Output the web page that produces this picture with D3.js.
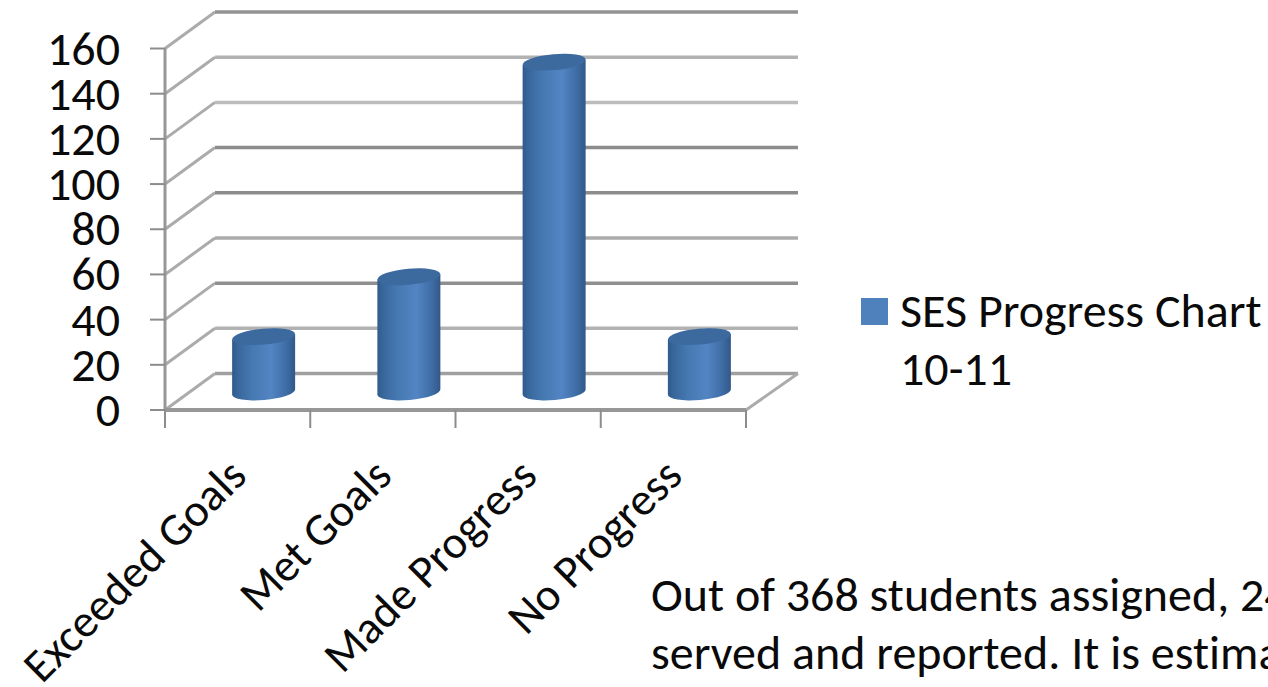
<!DOCTYPE html>
<html><head><meta charset="utf-8">
<script src="https://cdn.jsdelivr.net/npm/d3@7/dist/d3.min.js"></script>
<style>html,body{margin:0;padding:0;background:#fff;overflow:hidden}text{font-family:Carlito,Calibri,"Open Sans","Noto Sans",sans-serif;fill:#0a0a0a;font-variant-ligatures:none}</style>
</head><body><svg id="c" width="1268" height="687"></svg>
<script>
const categories=["Exceeded Goals","Met Goals","Made Progress","No Progress"];
const values=[24.5,51,146,24.5];
const yTicks=[0,20,40,60,80,100,120,140,160];
const legendLines=["SES Progress Chart","10-11"];
const noteLines=["Out of 368 students assigned, 24","served and reported. It is estima"];
const gridColors=["#a0a0a0","#b2b2b2","#8f8f8f","#ababab","#8c8c8c","#8c8c8c","#bcbcbc","#b2b2b2","#929292"];
const svg=d3.select("#c");
const defs=svg.append("defs");
const g=defs.append("linearGradient").attr("id","cyl");
[[0,"#2f5a8c"],[.08,"#376699"],[.3,"#4577b0"],[.62,"#5385c4"],[.85,"#3f6ea6"],[1,"#31598a"]].forEach(d=>g.append("stop").attr("offset",d[0]).attr("stop-color",d[1]));
const x=d3.scaleBand().domain(categories).range([165,746]);
const y=d3.scaleLinear().domain([0,160]).range([410,48.5]);
const dx=50,dy=-36.5;
const wall=svg.append("g");
wall.selectAll(".d").data(yTicks).join("path")
 .attr("d",d=>`M165,${y(d)}L${165+dx},${y(d)+dy}`).attr("fill","none").attr("stroke","#ababab").attr("stroke-width",3);
wall.selectAll(".h").data(yTicks).join("path")
 .attr("d",d=>`M${165+dx},${y(d)+dy}H798`).attr("fill","none").attr("stroke",(d,i)=>gridColors[i]).attr("stroke-width",3.5);
wall.append("path").attr("d",`M746,410L798,${410+dy}`).attr("fill","none").attr("stroke","#ababab").attr("stroke-width",3);
const axis=svg.append("g");
axis.append("path").attr("d","M165,48.5V410").attr("stroke","#979797").attr("stroke-width",3);
axis.append("path").attr("d","M165,410H746").attr("stroke","#979797").attr("stroke-width",4);
axis.selectAll(".t").data([...categories.map(c=>x(c)),746]).join("line").attr("x1",d=>d).attr("x2",d=>d).attr("y1",410).attr("y2",428).attr("stroke","#8c8c8c").attr("stroke-width",2);
axis.selectAll(".yt").data(yTicks).join("line").attr("x1",150).attr("x2",165).attr("y1",d=>y(d)).attr("y2",d=>y(d)).attr("stroke","#8c8c8c").attr("stroke-width",2);
svg.selectAll(".yl").data(yTicks).join("text").attr("x",120).attr("y",d=>y(d)+16).attr("text-anchor","end").attr("font-size",48).text(d=>d);
const rx=31.5,ry=8,tilt=-5,lift=18,off=26;
const ty=rx*Math.sin(-tilt*Math.PI/180);
svg.selectAll(".b").data(categories).join("g").each(function(c,i){
 const cx=x(c)+x.bandwidth()/2+off, top=y(values[i])-lift, bot=y(0)-lift;
 const s=d3.select(this);
 s.append("path").attr("d",`M${cx-rx},${top+ty}L${cx-rx},${bot+ty}A${rx},${ry} ${tilt} 0 0 ${cx+rx},${bot-ty}L${cx+rx},${top-ty}Z`).attr("fill","url(#cyl)");
 s.append("ellipse").attr("cx",cx).attr("cy",top).attr("rx",rx).attr("ry",ry).attr("fill","#3c6a9f").attr("transform",`rotate(${tilt} ${cx} ${top})`);
});
svg.selectAll(".xl").data(categories).join("text").attr("font-size",46).attr("text-anchor","end")
 .attr("transform",c=>`translate(${x(c)+x.bandwidth()/2+11},478) rotate(-45)`).text(d=>d);
svg.append("rect").attr("x",861).attr("y",298).attr("width",27).attr("height",27).attr("fill","#4f81bd");
legendLines.forEach((t,i)=>svg.append("text").attr("x",900).attr("y",327+i*58).attr("font-size",48).text(t));
noteLines.forEach((t,i)=>svg.append("text").attr("x",651).attr("y",611+i*57.5).attr("font-size",48).text(t));
</script></body></html>
